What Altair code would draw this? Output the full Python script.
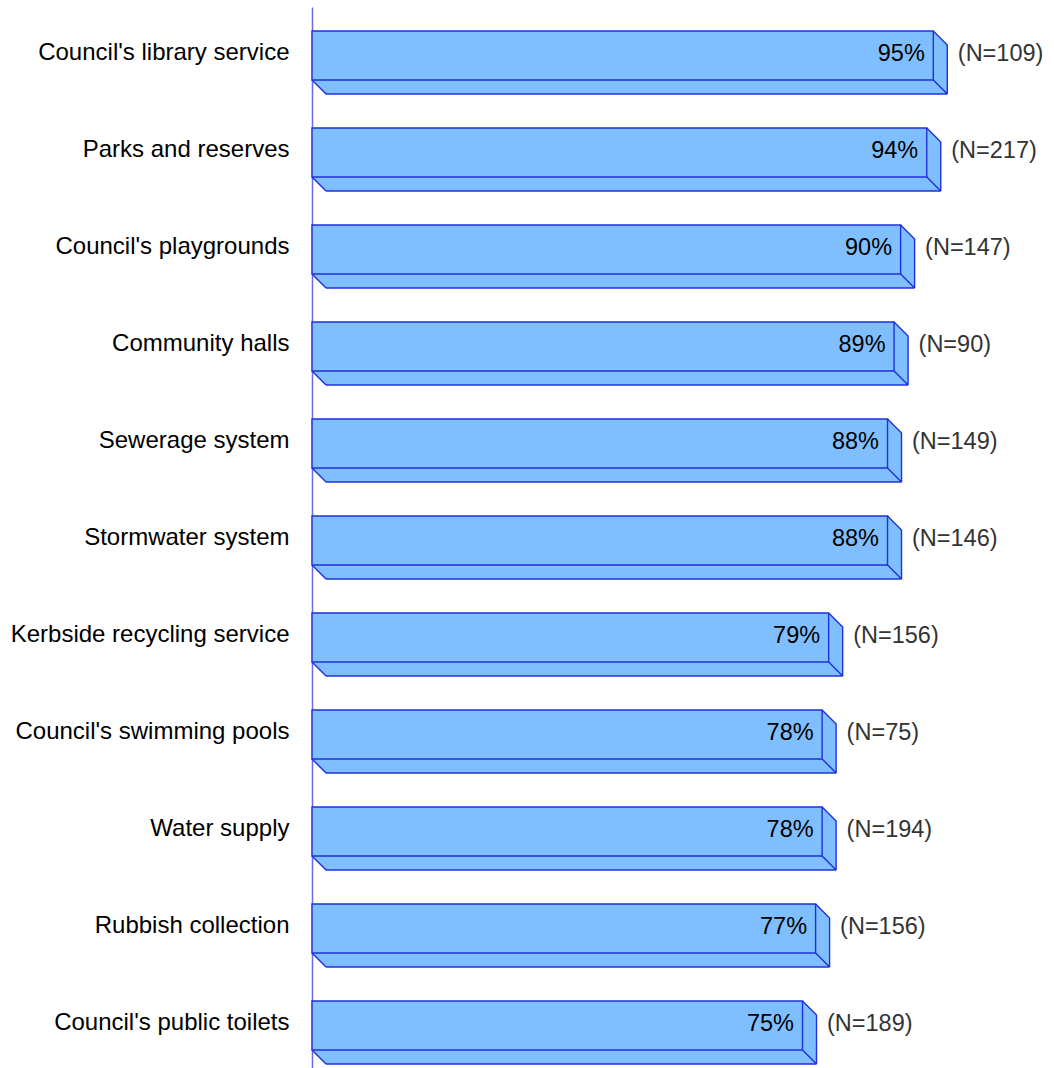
import altair as alt
import pandas as pd

categories = [
    "Council's library service",
    "Parks and reserves",
    "Council's playgrounds",
    "Community halls",
    "Sewerage system",
    "Stormwater system",
    "Kerbside recycling service",
    "Council's swimming pools",
    "Water supply",
    "Rubbish collection",
    "Council's public toilets",
]
values = [95, 94, 90, 89, 88, 88, 79, 78, 78, 77, 75]
counts = [109, 217, 147, 90, 149, 146, 156, 75, 194, 156, 189]

df = pd.DataFrame({"category": categories, "value": values, "n": counts})
df["zero"] = 0
df["pct_label"] = df["value"].astype(str) + "%"
df["n_label"] = "(N=" + df["n"].astype(str) + ")"

FILL = "#80bfff"
EDGE = "#1f30dc"
AXIS = "#6b6bf0"
FONT = "Liberation Sans"
SW = 1.4
D = 14      # 3D depth in px
H = 24.5    # half bar thickness in px

y_enc = alt.Y(
    "category:N",
    sort=categories,
    scale=alt.Scale(paddingInner=48 / 97, paddingOuter=0.2165, align=0.571),
    axis=alt.Axis(
        title=None, ticks=False, labelPadding=23, labelFontSize=24,
        labelFont=FONT, labelColor="#000000", labelOffset=-2, domainColor=AXIS,
        domainWidth=1.5, labelLimit=400, grid=False,
    ),
)
x_enc = alt.X("value:Q", scale=alt.Scale(domain=[0, 100]), axis=None)
x0_enc = alt.X("zero:Q", scale=alt.Scale(domain=[0, 100]), axis=None)

base = alt.Chart(df).encode(y=y_enc)

shadow = base.mark_bar(
    fill=FILL, strokeWidth=0, xOffset=D, x2Offset=D, yOffset=D
).encode(x=x_enc)

tri_right = base.mark_point(
    shape=f"M0,{-H}L{D},{-H + D}L0,{-H + D}Z", size=4, filled=True,
    fill=FILL, strokeWidth=0, opacity=1,
).encode(x=x_enc)

tri_left = base.mark_point(
    shape=f"M0,{H}L{D},{H + D}L{D},{H}Z", size=4, filled=True,
    fill=FILL, strokeWidth=0, opacity=1,
).encode(x=x0_enc)

side_edges = base.mark_point(
    shape=f"M0,{-H}L{D},{-H + D}L{D},{H + D}M0,{H}L{D},{H + D}", size=4,
    filled=False, stroke=EDGE, strokeWidth=SW, opacity=1,
).encode(x=x_enc)

left_edge = base.mark_point(
    shape=f"M0,{H}L{D},{H + D}", size=4, filled=False, stroke=EDGE,
    strokeWidth=SW, opacity=1,
).encode(x=x0_enc)

bottom_edge = base.mark_rule(
    color=EDGE, strokeWidth=SW, xOffset=D, x2Offset=D, yOffset=H + D
).encode(x=x_enc, x2="zero:Q")

front = base.mark_bar(fill=FILL, stroke=EDGE, strokeWidth=SW).encode(x=x_enc)

pct = base.mark_text(
    align="right", baseline="middle", dx=-8.5, dy=-1.5, fontSize=23.5, font=FONT,
    color="#000000",
).encode(x=x_enc, text="pct_label:N")

nlab = base.mark_text(
    align="left", baseline="middle", dx=24.5, dy=-1.5, fontSize=23.5, font=FONT,
    color="#333333",
).encode(x=x_enc, text="n_label:N")

chart = alt.layer(
    shadow, tri_right, tri_left, front, side_edges, left_edge, bottom_edge, pct, nlab
).properties(
    width=654,
    height=1061,
    autosize=alt.AutoSizeParams(type="none"),
    padding={"left": 312, "top": 7, "right": 88, "bottom": 0},
).configure_view(stroke=None)

chart.save("out.html", embed_options={"renderer": "svg", "actions": False})
